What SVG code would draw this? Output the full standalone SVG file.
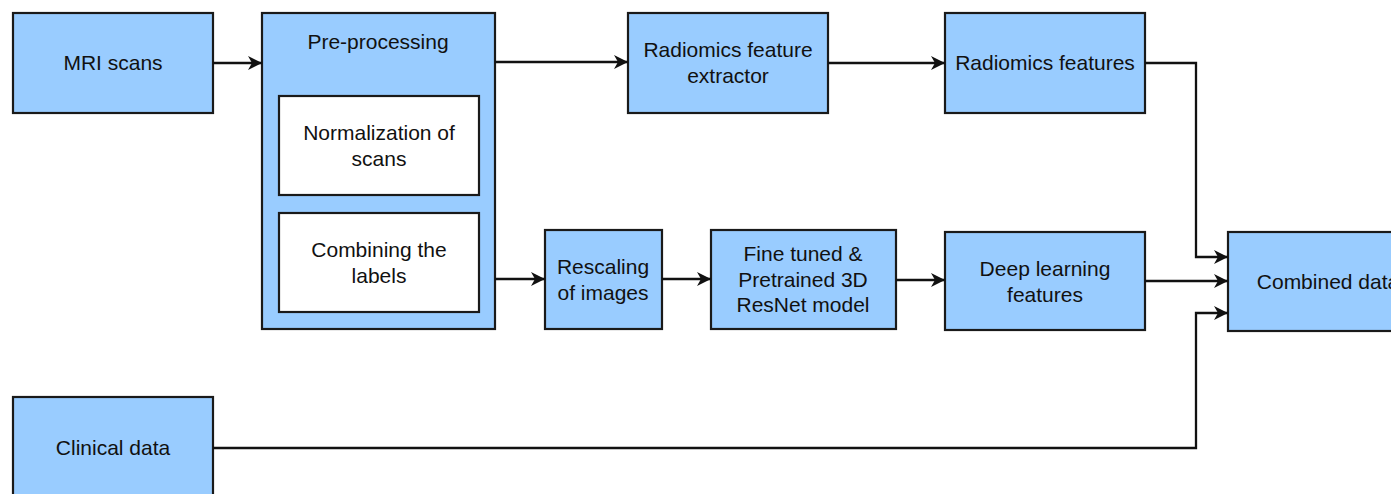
<svg xmlns="http://www.w3.org/2000/svg" width="1391" height="494" viewBox="0 0 1391 494">
  <style>
    .box { fill: #99CCFF; stroke: #1a1a1a; stroke-width: 2.2; }
    .inner { fill: #ffffff; stroke: #1a1a1a; stroke-width: 2.2; }
    .lbl { font-family: "Liberation Sans", Arial, sans-serif; font-size: 21px; fill: #111111; text-anchor: middle; }
    .edge { fill: none; stroke: #111111; stroke-width: 2.3; }
  </style>
  <defs>
    <marker id="arrow" markerUnits="userSpaceOnUse" markerWidth="15" markerHeight="15" refX="14" refY="7" orient="auto">
      <path d="M0,0 L14,7 L0,14 L4,7 Z" fill="#111111"/>
    </marker>
  </defs>
  <rect width="1391" height="494" fill="#ffffff"/>

  <g id="mri-scans">
    <rect class="box" x="13" y="13" width="200" height="100"/>
    <text class="lbl" x="113" y="70">MRI scans</text>
  </g>

  <g id="pre-processing">
    <rect class="box" x="262" y="13" width="233" height="316"/>
    <text class="lbl" x="378" y="49">Pre-processing</text>
  </g>

  <g id="normalization">
    <rect class="inner" x="279" y="96" width="200" height="99"/>
    <text class="lbl" x="379" y="140">Normalization of</text>
    <text class="lbl" x="379" y="166">scans</text>
  </g>

  <g id="combining-labels">
    <rect class="inner" x="279" y="213" width="200" height="99"/>
    <text class="lbl" x="379" y="257">Combining the</text>
    <text class="lbl" x="379" y="283">labels</text>
  </g>

  <g id="radiomics-extractor">
    <rect class="box" x="628" y="13" width="200" height="100"/>
    <text class="lbl" x="728" y="57">Radiomics feature</text>
    <text class="lbl" x="728" y="83">extractor</text>
  </g>

  <g id="radiomics-features">
    <rect class="box" x="945" y="13" width="200" height="100"/>
    <text class="lbl" x="1045" y="70">Radiomics features</text>
  </g>

  <g id="rescaling">
    <rect class="box" x="545" y="230" width="117" height="99"/>
    <text class="lbl" x="603" y="274">Rescaling</text>
    <text class="lbl" x="603" y="300">of images</text>
  </g>

  <g id="resnet">
    <rect class="box" x="711" y="230" width="185" height="99"/>
    <text class="lbl" x="803" y="261">Fine tuned &amp;</text>
    <text class="lbl" x="803" y="287">Pretrained 3D</text>
    <text class="lbl" x="803" y="312">ResNet model</text>
  </g>

  <g id="deep-features">
    <rect class="box" x="945" y="232" width="200" height="98"/>
    <text class="lbl" x="1045" y="276">Deep learning</text>
    <text class="lbl" x="1045" y="302">features</text>
  </g>

  <g id="combined-data">
    <rect class="box" x="1228" y="232" width="200" height="99"/>
    <text class="lbl" x="1328" y="289">Combined data</text>
  </g>

  <g id="clinical-data">
    <rect class="box" x="13" y="397" width="200" height="100"/>
    <text class="lbl" x="113" y="455">Clinical data</text>
  </g>

  <g id="connectors">
    <path class="edge" d="M213,63 L262,63" marker-end="url(#arrow)"/>
    <path class="edge" d="M495,62 L628,62" marker-end="url(#arrow)"/>
    <path class="edge" d="M828,63 L945,63" marker-end="url(#arrow)"/>
    <path class="edge" d="M1145,63 L1196,63 L1196,257 L1228,257" marker-end="url(#arrow)"/>
    <path class="edge" d="M495,279 L545,279" marker-end="url(#arrow)"/>
    <path class="edge" d="M662,279 L711,279" marker-end="url(#arrow)"/>
    <path class="edge" d="M896,280 L945,280" marker-end="url(#arrow)"/>
    <path class="edge" d="M1145,281 L1228,281" marker-end="url(#arrow)"/>
    <path class="edge" d="M213,448 L1196,448 L1196,313 L1228,313" marker-end="url(#arrow)"/>
  </g>
</svg>
